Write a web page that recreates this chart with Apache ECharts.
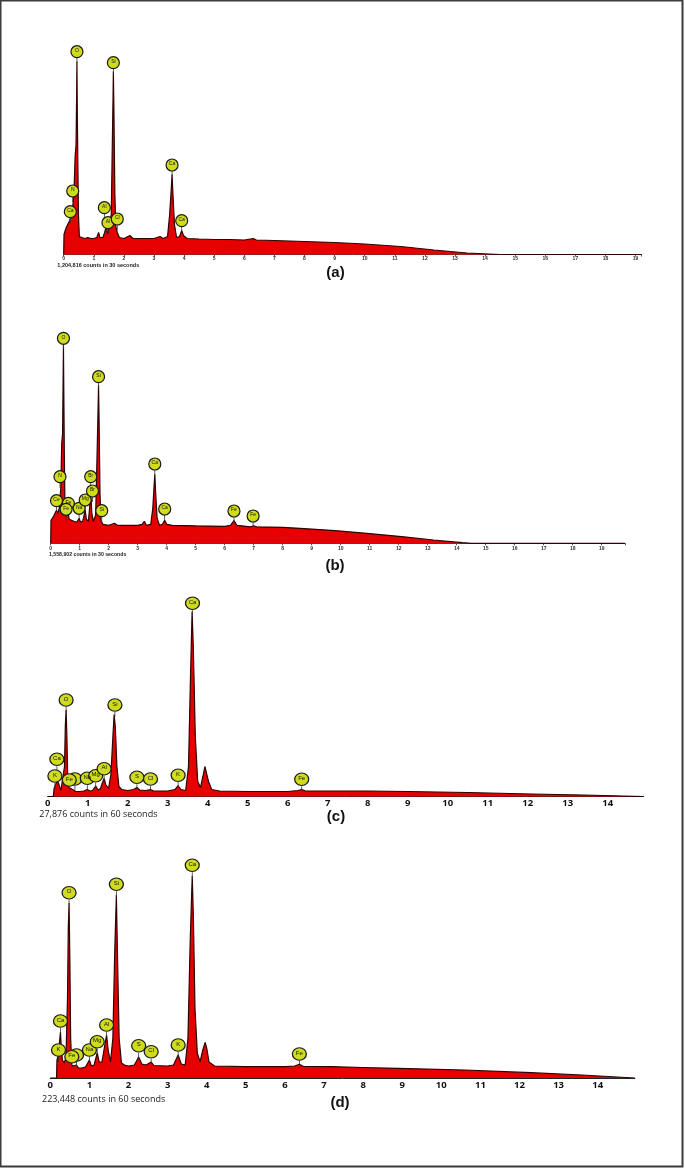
<!DOCTYPE html>
<html>
<head>
<meta charset="utf-8">
<title>EDS spectra (a)-(d)</title>
<script src="https://cdn.jsdelivr.net/npm/echarts@6.0.0/dist/echarts.min.js"></script>
<style>
html, body { margin: 0; padding: 0; background: #fff; }
#chart { width: 685px; height: 1168px; }
</style>
</head>
<body>
<div id="chart"></div>
<script>
// spectra as [energy keV, counts] (relative counts)
const specA = [[0, 0], [0.01, 20], [0.05, 24], [0.1, 28], [0.15, 30], [0.2, 34], [0.25, 40], [0.3, 48], [0.34, 60], [0.38, 98], [0.41, 110], [0.43, 160], [0.44, 193], [0.45, 150], [0.47, 90], [0.49, 40], [0.52, 18], [0.6, 17], [0.7, 16], [0.8, 17], [0.9, 16], [1.0, 16], [1.1, 17], [1.16, 22], [1.2, 17], [1.3, 17], [1.36, 22], [1.41, 28], [1.46, 20], [1.52, 18], [1.58, 40], [1.62, 120], [1.64, 158], [1.65, 183], [1.67, 140], [1.7, 60], [1.73, 28], [1.78, 22], [1.85, 17], [2.0, 16], [2.2, 19], [2.3, 16], [2.6, 16], [3.0, 16], [3.2, 18], [3.3, 16], [3.45, 18], [3.52, 40], [3.57, 64], [3.6, 80], [3.63, 60], [3.68, 30], [3.75, 17], [3.85, 18], [3.92, 24], [3.98, 19], [4.1, 16], [4.5, 15.5], [5, 15], [5.5, 15], [6, 14.5], [6.3, 16], [6.4, 14.5], [7, 14], [8, 13], [9, 12], [10, 10.5], [11.2, 8], [12.3, 4.5], [13.4, 1.5], [14.5, 0], [19.2, 0]]
const specB = [[0, 0], [0.01, 23], [0.05, 25], [0.1, 27], [0.15, 30], [0.2, 33], [0.25, 30], [0.3, 36], [0.35, 56], [0.38, 100], [0.41, 110], [0.43, 170], [0.44, 198], [0.45, 160], [0.47, 90], [0.49, 40], [0.52, 28], [0.56, 26], [0.6, 30], [0.64, 24], [0.7, 25], [0.8, 22], [0.9, 21], [0.98, 25], [1.03, 21], [1.1, 22], [1.15, 28], [1.19, 33], [1.23, 24], [1.3, 22], [1.34, 35], [1.38, 50], [1.42, 30], [1.47, 22], [1.55, 28], [1.6, 90], [1.63, 130], [1.65, 158], [1.67, 120], [1.7, 50], [1.73, 23], [1.8, 19], [2.0, 18], [2.2, 20], [2.3, 18], [2.6, 18], [3.0, 18], [3.15, 19], [3.23, 22], [3.3, 18], [3.45, 19], [3.52, 35], [3.56, 55], [3.59, 69], [3.62, 50], [3.67, 25], [3.75, 18], [3.85, 19], [3.93, 23], [4.0, 19], [4.2, 18], [5, 17.5], [6, 17], [6.2, 18], [6.32, 22.7], [6.42, 18], [6.9, 16.5], [7.0, 17.5], [7.1, 16.5], [8, 16], [8.6, 15], [9.8, 12.7], [10.9, 10], [12.1, 6.7], [13.2, 3.3], [14.2, 0.6], [14.5, 0], [19.8, 0]]
const specC = [[0, 0], [0.14, 0], [0.16, 8], [0.2, 12], [0.24, 16.5], [0.28, 12], [0.33, 6], [0.38, 6], [0.42, 30], [0.44, 70], [0.46, 86.5], [0.48, 60], [0.5, 20], [0.53, 9], [0.58, 10], [0.62, 7], [0.7, 5], [0.8, 5], [0.9, 5.5], [0.99, 7], [1.06, 5.5], [1.12, 6], [1.2, 10.5], [1.26, 6.5], [1.32, 8], [1.37, 14], [1.41, 18], [1.45, 12], [1.52, 8], [1.58, 22], [1.63, 60], [1.66, 82], [1.69, 70], [1.73, 30], [1.78, 10], [1.85, 7], [2.0, 6], [2.15, 7], [2.23, 9], [2.3, 6.5], [2.45, 6], [2.57, 7], [2.65, 5.5], [3.0, 5.5], [3.18, 7], [3.26, 11], [3.33, 7], [3.45, 6], [3.52, 30], [3.57, 120], [3.61, 185], [3.64, 150], [3.69, 60], [3.75, 15], [3.82, 9], [3.88, 20], [3.93, 30], [3.97, 29], [4.02, 15], [4.1, 7], [4.3, 5.5], [5, 5], [6, 5], [6.25, 6], [6.35, 7], [6.45, 5.5], [7, 5.5], [8, 5.5], [9, 5], [10.5, 4], [12.1, 2.5], [13.4, 1.5], [14.9, 0]]
const specD = [[0, 0], [0.16, 0], [0.17, 18], [0.2, 22], [0.24, 38], [0.26, 46], [0.28, 30], [0.31, 18], [0.35, 15], [0.4, 20], [0.44, 80], [0.46, 150], [0.48, 175], [0.5, 120], [0.52, 40], [0.55, 12], [0.6, 11], [0.67, 13], [0.72, 10], [0.8, 10], [0.9, 11], [1.0, 18], [1.05, 12], [1.12, 13], [1.2, 25], [1.25, 16], [1.32, 16], [1.39, 32], [1.44, 43], [1.48, 28], [1.54, 16], [1.6, 40], [1.65, 130], [1.69, 183], [1.72, 120], [1.76, 40], [1.82, 15], [1.9, 13], [2.0, 12], [2.15, 13], [2.26, 21], [2.34, 14], [2.45, 13], [2.58, 16], [2.65, 12.5], [3.0, 12], [3.15, 13], [3.27, 23], [3.35, 14], [3.45, 13], [3.52, 40], [3.58, 140], [3.63, 202], [3.66, 160], [3.7, 70], [3.76, 25], [3.83, 16], [3.9, 28], [3.96, 35.7], [4.0, 30], [4.06, 16], [4.2, 12], [5, 11.3], [6, 11.3], [6.25, 12], [6.37, 13.7], [6.48, 11.5], [7.2, 11.3], [8, 10.5], [8.9, 9.7], [10.6, 8], [12.3, 5.3], [13.6, 3], [14.95, 0]]

// element markers: names and [energy, height]
const elemNamesA = ['Ca', 'N', 'O', 'Al', 'Al', 'Cl', 'Si', 'Ca', 'Ca']
const elemPosA = [[0.22, 42.8], [0.30, 63.5], [0.44, 202.8], [1.35, 46.8], [1.47, 31.8], [1.78, 35.5], [1.65, 191.8], [3.6, 89.5], [3.92, 33.8]]
const elemNamesB = ['Ce', 'N', 'O', 'Fe', 'Fe', 'Na', 'Mg', 'Br', 'Br', 'Si', 'Si', 'Ca', 'Ca', 'Fe', 'Fe']
const elemPosB = [[0.20, 42.6], [0.32, 66.6], [0.44, 205], [0.61, 40], [0.53, 34], [0.98, 35], [1.19, 43.3], [1.38, 66.6], [1.44, 52.3], [1.65, 166.6], [1.76, 32.6], [3.59, 79.3], [3.93, 34.3], [6.32, 32.3], [6.98, 27.3]]
const elemNamesC = ['Ca', 'K', 'O', '', 'Fe', 'Na', 'Mg', 'Al', 'Si', 'S', 'Cl', 'K', 'Ca', 'Fe']
const elemPosC = [[0.23, 37.2], [0.18, 20.5], [0.46, 96.5], [0.68, 17.5], [0.54, 16.5], [0.99, 18.2], [1.2, 20.8], [1.41, 27.8], [1.68, 91.5], [2.23, 19.2], [2.57, 17.5], [3.26, 21.2], [3.62, 193.2], [6.35, 17.2]]
const elemNamesD = ['Ca', 'K', 'O', '', 'Fe', 'Na', 'Mg', 'Al', 'Si', 'S', 'Cl', 'K', 'Ca', 'Fe']
const elemPosD = [[0.26, 57], [0.21, 28], [0.48, 185.3], [0.67, 23], [0.55, 21.3], [1.0, 28], [1.2, 36.3], [1.44, 53], [1.69, 193.7], [2.26, 32.3], [2.58, 26.3], [3.27, 33], [3.63, 212.7], [6.37, 24]]

const countsText = ['1,204,816 counts in 30 seconds', '1,558,902 counts in 30 seconds', '27,876 counts in 60 seconds', '223,448 counts in 60 seconds']
const panelTags = ['(a)', '(b)', '(c)', '(d)']

// layout of each panel (px)
const panels = [
	{ spec: specA, names: elemNamesA, pos: elemPosA, left: 63.7, base: 254.5, kev: 30.1, xMax: 19.2, small: true, margin: 2 },
	{ spec: specB, names: elemNamesB, pos: elemPosB, left: 50.7, base: 543.3, kev: 29.0, xMax: 19.8, small: true, margin: 2.5 },
	{ spec: specC, names: elemNamesC, pos: elemPosC, left: 47.7, base: 796.5, kev: 40.0, xMax: 14.9, small: false, margin: 1.5 },
	{ spec: specD, names: elemNamesD, pos: elemPosD, left: 50.3, base: 1078, kev: 39.1, xMax: 14.95, small: false, margin: 2.5 },
]
const yMax = 230
const textPos = [[57.3, 265.3, 5.5], [49, 554.3, 5.2], [39.3, 814, 9], [42, 1099.3, 9]]
const tagPos = [[335.5, 272.7], [335, 566], [336, 817.3], [340, 1102.7]]

let grid = []
let xAxis = []
let yAxis = []
let series = []
panels.forEach((p, i) => {
	grid.push({ left: p.left, top: p.base - yMax, width: p.xMax * p.kev, height: yMax })
	xAxis.push({
		gridIndex: i,
		type: 'value',
		min: 0,
		max: p.xMax,
		interval: 1,
		splitLine: { show: false },
		axisLine: { lineStyle: { color: p.small ? '#444' : '#222', width: 1 } },
		axisTick: { show: p.small, length: 2, lineStyle: { color: '#555' } },
		axisLabel: {
			margin: p.margin,
			fontSize: p.small ? 5 : 9.5,
			fontWeight: 'bold',
			color: p.small ? '#333' : '#111',
			fontFamily: p.small ? 'Liberation Sans' : 'Open Sans',
			formatter: (v) => (Number.isInteger(v) ? v : ''),
		},
	})
	yAxis.push({ gridIndex: i, type: 'value', min: 0, max: yMax, show: false })
	series.push({
		type: 'line',
		xAxisIndex: i,
		yAxisIndex: i,
		data: p.spec,
		showSymbol: false,
		symbol: 'none',
		lineStyle: { color: '#2e0303', width: 1.2 },
		areaStyle: { color: '#e60000', opacity: 1 },
		z: 2,
	})
	let marks = p.pos.map((xy, k) => ({ value: xy, name: p.names[k] }))
	let r = p.small ? 6 : 7
	series.push({
		type: 'scatter',
		xAxisIndex: i,
		yAxisIndex: i,
		data: marks,
		symbol: 'rect',
		symbolSize: [0.8, 5],
		symbolOffset: [0, r + 2.5],
		itemStyle: { color: '#333', opacity: 1 },
		clip: false,
		z: 3,
	})
	series.push({
		type: 'scatter',
		xAxisIndex: i,
		yAxisIndex: i,
		data: marks,
		symbol: 'circle',
		symbolSize: p.small ? [12, 12] : [14, 12.5],
		itemStyle: { color: '#cfdc1c', borderColor: '#1a1a1a', borderWidth: 1.2, opacity: 1 },
		label: {
			show: true,
			position: 'inside',
			formatter: (d) => d.name,
			fontSize: p.small ? 5 : 6,
			color: '#111',
			offset: [0, -1],
		},
		clip: false,
		z: 4,
	})
})

let graphic = [
	{ type: 'rect', shape: { x: 0.5, y: 0.5, width: 682, height: 1166 }, style: { fill: 'none', stroke: '#3c3c3c', lineWidth: 2 }, z: 10 },
]
countsText.forEach((t, i) => {
	graphic.push({
		type: 'text',
		x: textPos[i][0],
		y: textPos[i][1],
		style: {
			text: t,
			font: (i < 2 ? 'bold ' : '') + textPos[i][2] + 'px ' + (i < 2 ? 'Liberation Sans' : 'Open Sans'),
			fill: '#222',
			textAlign: 'left',
			textVerticalAlign: 'middle',
			verticalAlign: 'middle',
		},
	})
})
panelTags.forEach((t, i) => {
	graphic.push({
		type: 'text',
		x: tagPos[i][0],
		y: tagPos[i][1],
		style: {
			text: t,
			font: 'bold 15px Liberation Sans',
			fill: '#111',
			textAlign: 'center',
			align: 'center',
			textVerticalAlign: 'middle',
			verticalAlign: 'middle',
		},
	})
})

const chart = echarts.init(document.getElementById('chart'))
chart.setOption({
	animation: false,
	backgroundColor: '#fff',
	grid: grid,
	xAxis: xAxis,
	yAxis: yAxis,
	series: series,
	graphic: graphic,
})
window.addEventListener('resize', chart.resize)
</script>
</body>
</html>
